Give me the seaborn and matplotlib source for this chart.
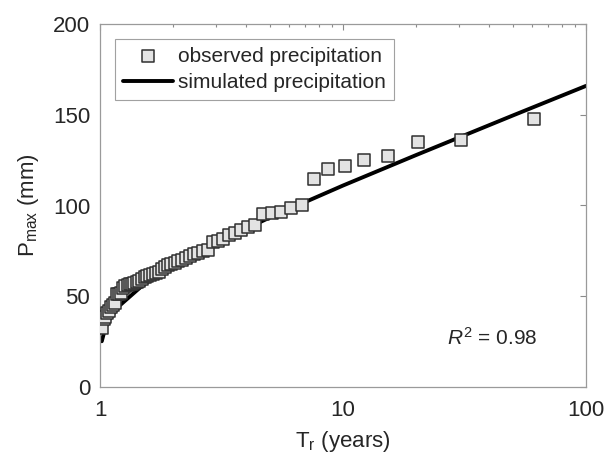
import numpy as np
import pandas as pd
import matplotlib
matplotlib.use("Agg")
import matplotlib.pyplot as plt
from matplotlib.ticker import FixedLocator, FixedFormatter, LogLocator, NullFormatter
import seaborn as sns

# observed annual maxima (return period, precipitation)
obs_T = [1.017, 1.034, 1.052, 1.070, 1.089, 1.109, 1.130, 1.151, 1.173, 1.196,
         1.220, 1.245, 1.271, 1.298, 1.326, 1.356, 1.386, 1.419, 1.452, 1.488,
         1.525, 1.564, 1.605, 1.649, 1.694, 1.743, 1.794, 1.848, 1.906, 1.968,
         2.033, 2.103, 2.179, 2.259, 2.346, 2.440, 2.542, 2.652, 2.773, 2.905,
         3.050, 3.211, 3.389, 3.588, 3.813, 4.067, 4.357, 4.692, 5.083, 5.545,
         6.100, 6.778, 7.625, 8.714, 10.17, 12.20, 15.25, 20.33, 30.50, 61.00]
obs_P = [32.5, 37.5, 38.5, 41.0, 42.0, 44.0, 45.0, 46.5, 51.0, 51.5,
         52.0, 54.5, 55.5, 56.0, 56.5, 57.0, 57.5, 58.0, 58.5, 59.5,
         60.5, 61.0, 61.5, 62.5, 63.0, 63.5, 65.0, 66.0, 67.0, 68.0,
         68.5, 69.5, 70.0, 71.0, 72.0, 73.5, 74.0, 75.0, 75.5, 80.0,
         80.5, 81.5, 84.0, 85.0, 86.5, 88.0, 89.0, 95.5, 96.0, 96.5,
         98.5, 100.5, 114.5, 120.0, 122.0, 125.0, 127.5, 135.0, 136.0, 147.5]

# simulated curve
sim_T = [1.017, 1.05, 1.1, 1.2, 1.5, 2, 3, 5, 10, 20, 50, 100]
sim_P = [25.2, 32.3, 37.8, 44.7, 56.1, 66.9, 79.4, 93.4, 111.0, 127.8, 149.6, 165.9]

r2_text = "$R^2$ = 0.98"

obs = pd.DataFrame({"T": obs_T, "P": obs_P})
sim = pd.DataFrame({"T": sim_T, "P": sim_P})

sns.set_style("white")
plt.rcParams["font.family"] = ["Liberation Sans", "DejaVu Sans"]
plt.rcParams["mathtext.fontset"] = "custom"
plt.rcParams["mathtext.rm"] = "Liberation Sans"
plt.rcParams["mathtext.it"] = "Liberation Sans:italic"
plt.rcParams["text.color"] = "#262626"

fig = plt.figure(figsize=(6.08, 4.61), dpi=100)
ax = fig.add_axes([100 / 608, 74 / 461, 486 / 608, 363 / 461])
ax.set_xscale("log")

sns.scatterplot(data=obs, x="T", y="P", ax=ax, marker="s", s=80,
                color="#e3e3e3", edgecolor="#303030", linewidth=1.1,
                label="observed precipitation", zorder=3)
sns.lineplot(data=sim, x="T", y="P", ax=ax, color="black", linewidth=2.8,
             label="simulated precipitation", zorder=2)

ax.set_xlim(1, 100)
ax.set_ylim(0, 200)
ax.xaxis.set_major_locator(FixedLocator([1, 10, 100]))
ax.xaxis.set_major_formatter(FixedFormatter(["1", "10", "100"]))
ax.xaxis.set_minor_locator(LogLocator(base=10, subs=np.arange(2, 10)))
ax.xaxis.set_minor_formatter(NullFormatter())
ax.set_yticks([0, 50, 100, 150, 200])

ax.tick_params(which="both", direction="in", top=True, right=True,
               colors="#8a8a8a", labelcolor="#262626", labelsize=16, width=0.8)
ax.tick_params(axis="x", which="major", length=4, pad=9)
ax.tick_params(axis="y", which="major", length=4, pad=7)
ax.tick_params(which="minor", length=2.5)
for sp in ax.spines.values():
    sp.set_color("#9a9a9a")
    sp.set_linewidth(0.9)

ax.set_xlabel("T$_\\mathrm{r}$ (years)", fontsize=16, color="#262626", labelpad=6)
ax.set_ylabel("P$_\\mathrm{max}$ (mm)", fontsize=16, color="#262626", labelpad=9)

leg = ax.legend(loc="upper left", bbox_to_anchor=(0.031, 0.96), fontsize=15,
                frameon=True, fancybox=False, edgecolor="#8a8a8a",
                handlelength=2.4, handletextpad=0.2, borderpad=0.4,
                labelspacing=0.35, borderaxespad=0.0)
leg.get_frame().set_linewidth(0.8)

ax.text(0.713, 0.135, r2_text, transform=ax.transAxes, fontsize=15,
        va="center", ha="left")

fig.savefig("out.png", dpi=100)
